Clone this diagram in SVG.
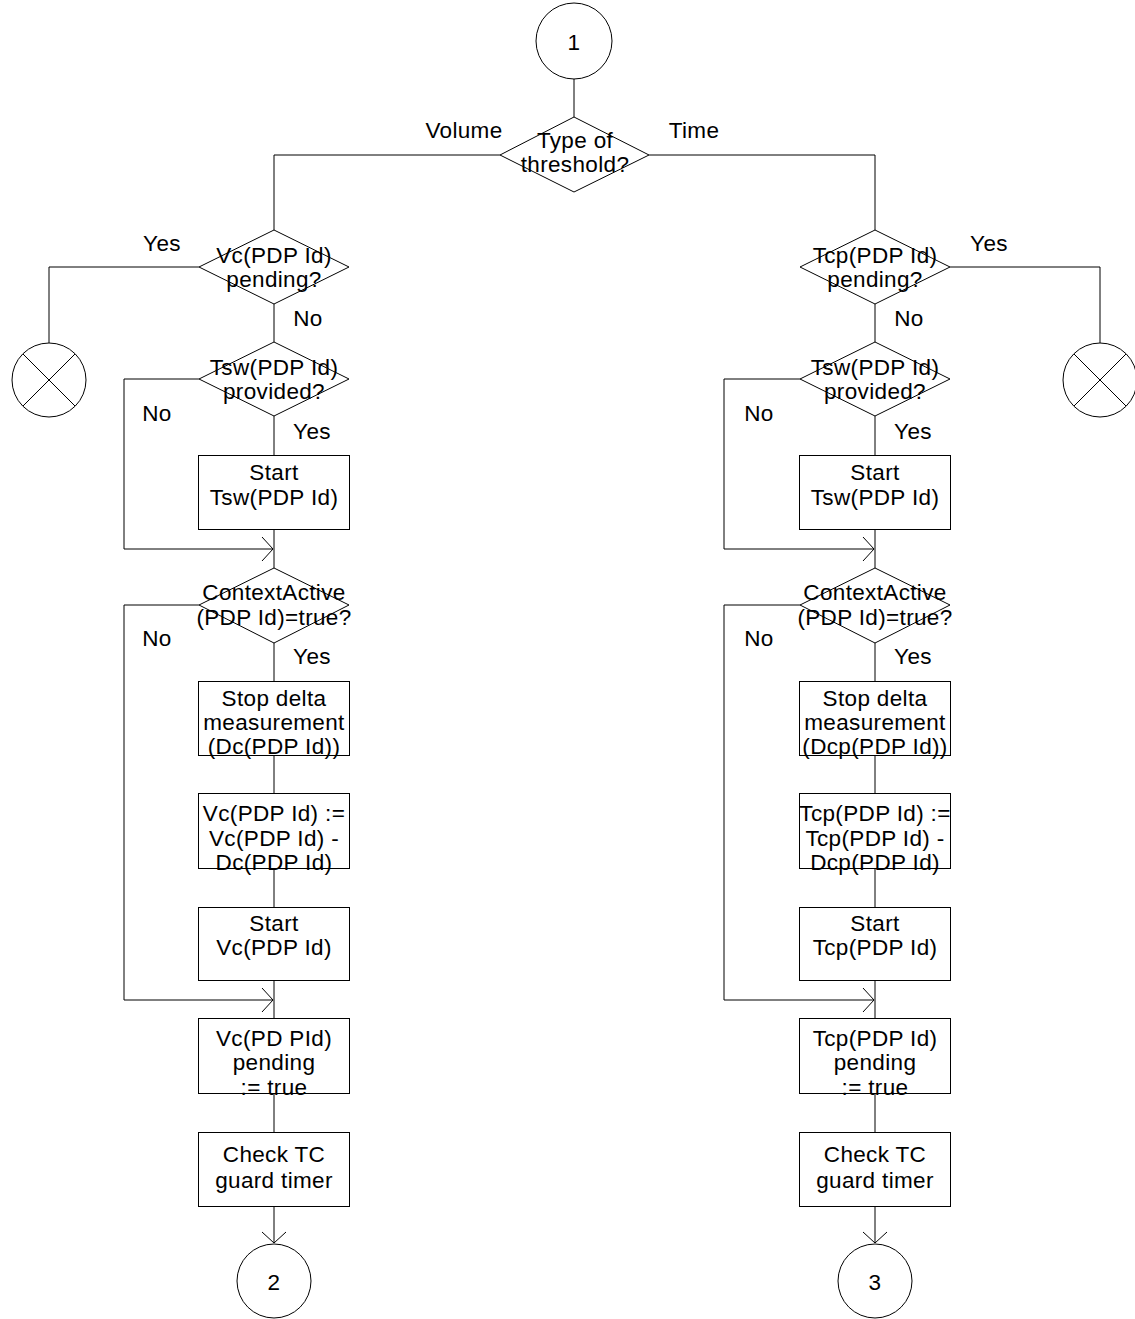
<svg xmlns="http://www.w3.org/2000/svg" width="1135" height="1319" viewBox="0 0 1135 1319">
<style>
.s{fill:none;stroke:#000;stroke-width:1}
.n{fill:#fff;stroke:#000;stroke-width:1}
text{font-family:"Liberation Sans",Arial,sans-serif;font-size:22.5px;letter-spacing:0.35px;fill:#000;text-anchor:middle}
</style>
<defs>
<marker id="arr" markerUnits="userSpaceOnUse" markerWidth="14" markerHeight="26" viewBox="-1 -1 14 26" refX="11" refY="12" orient="auto">
<path d="M0,0 L11,12 L0,24" fill="none" stroke="#000" stroke-width="1"/>
</marker>
</defs>
<rect width="1135" height="1319" fill="#fff"/>
<g id="connectors" class="s">
<path d="M574,79 V117"/>
<path d="M500,155 H274 V230"/>
<path d="M649,155 H875 V230"/>
<path d="M199,267 H49 V343"/>
<path d="M274,304 V342"/>
<path d="M274,416 V455"/>
<path d="M199,379 H124 V549 H273" marker-end="url(#arr)"/>
<path d="M274,530 V568"/>
<path d="M274,643 V681"/>
<path d="M199,605 H124 V1000 H273" marker-end="url(#arr)"/>
<path d="M274,755 V793"/>
<path d="M274,868 V907"/>
<path d="M274,980 V1018"/>
<path d="M274,1093 V1132"/>
<path d="M274,1206 V1243" marker-end="url(#arr)"/>
<path d="M950,267 H1100 V343"/>
<path d="M875,304 V342"/>
<path d="M875,416 V455"/>
<path d="M800,379 H724 V549 H874" marker-end="url(#arr)"/>
<path d="M875,530 V568"/>
<path d="M875,643 V681"/>
<path d="M800,605 H724 V1000 H874" marker-end="url(#arr)"/>
<path d="M875,755 V793"/>
<path d="M875,868 V907"/>
<path d="M875,980 V1018"/>
<path d="M875,1093 V1132"/>
<path d="M875,1206 V1243" marker-end="url(#arr)"/>
</g>
<g id="labels">
<text x="464" y="138">Volume</text>
<text x="694" y="138">Time</text>
<text x="162" y="251">Yes</text>
<text x="308" y="326">No</text>
<text x="157" y="421">No</text>
<text x="312" y="439">Yes</text>
<text x="157" y="646">No</text>
<text x="312" y="664">Yes</text>
<text x="989" y="251">Yes</text>
<text x="909" y="326">No</text>
<text x="759" y="421">No</text>
<text x="913" y="439">Yes</text>
<text x="759" y="646">No</text>
<text x="913" y="664">Yes</text>
</g>
<g id="start1"><circle class="n" cx="574" cy="41" r="38"/><text x="574" y="50">1</text></g>
<g id="typeOfThreshold"><polygon class="n" points="574,117 649,155 574,192 500,155"/><text x="575" y="148">Type of</text><text x="575" y="172">threshold?</text></g>

<g id="vcPending"><polygon class="n" points="274,230 349,267 274,304 199,267"/><text x="274" y="263">Vc(PDP Id)</text><text x="274" y="287">pending?</text></g>
<g id="stopLeft"><circle class="n" cx="49" cy="380" r="37"/><path class="s" d="M23,354 L75,406 M75,354 L23,406"/></g>
<g id="tswProvidedL"><polygon class="n" points="274,342 349,379 274,416 199,379"/><text x="274" y="375">Tsw(PDP Id)</text><text x="274" y="399">provided?</text></g>
<g id="startTswL"><rect class="n" x="198.5" y="455.5" width="151" height="74"/><text x="274" y="480">Start</text><text x="274" y="505">Tsw(PDP Id)</text></g>
<g id="ctxActiveL"><polygon class="n" points="274,568 349,605 274,643 199,605"/><text x="274" y="600">ContextActive</text><text x="274" y="625">(PDP Id)=true?</text></g>
<g id="stopDeltaL"><rect class="n" x="198.5" y="681.5" width="151" height="74"/><text x="274" y="706">Stop delta</text><text x="274" y="730">measurement</text><text x="274" y="754">(Dc(PDP Id))</text></g>
<g id="vcUpdate"><rect class="n" x="198.5" y="793.5" width="151" height="75"/><text x="274" y="821">Vc(PDP Id) :=</text><text x="274" y="846">Vc(PDP Id) -</text><text x="274" y="870">Dc(PDP Id)</text></g>
<g id="startVc"><rect class="n" x="198.5" y="907.5" width="151" height="73"/><text x="274" y="931">Start</text><text x="274" y="955">Vc(PDP Id)</text></g>
<g id="vcPendingTrue"><rect class="n" x="198.5" y="1018.5" width="151" height="75"/><text x="274" y="1046">Vc(PD PId)</text><text x="274" y="1070">pending</text><text x="274" y="1095">:= true</text></g>
<g id="checkTcL"><rect class="n" x="198.5" y="1132.5" width="151" height="74"/><text x="274" y="1162">Check TC</text><text x="274" y="1188">guard timer</text></g>
<g id="conn2"><circle class="n" cx="274" cy="1281" r="37"/><text x="274" y="1290">2</text></g>

<g id="tcpPending"><polygon class="n" points="875,230 950,267 875,304 800,267"/><text x="875" y="263">Tcp(PDP Id)</text><text x="875" y="287">pending?</text></g>
<g id="stopRight"><circle class="n" cx="1100" cy="380" r="37"/><path class="s" d="M1074,354 L1126,406 M1126,354 L1074,406"/></g>
<g id="tswProvidedR"><polygon class="n" points="875,342 950,379 875,416 800,379"/><text x="875" y="375">Tsw(PDP Id)</text><text x="875" y="399">provided?</text></g>
<g id="startTswR"><rect class="n" x="799.5" y="455.5" width="151" height="74"/><text x="875" y="480">Start</text><text x="875" y="505">Tsw(PDP Id)</text></g>
<g id="ctxActiveR"><polygon class="n" points="875,568 950,605 875,643 800,605"/><text x="875" y="600">ContextActive</text><text x="875" y="625">(PDP Id)=true?</text></g>
<g id="stopDeltaR"><rect class="n" x="799.5" y="681.5" width="151" height="74"/><text x="875" y="706">Stop delta</text><text x="875" y="730">measurement</text><text x="875" y="754">(Dcp(PDP Id))</text></g>
<g id="tcpUpdate"><rect class="n" x="799.5" y="793.5" width="151" height="75"/><text x="875" y="821">Tcp(PDP Id) :=</text><text x="875" y="846">Tcp(PDP Id) -</text><text x="875" y="870">Dcp(PDP Id)</text></g>
<g id="startTcp"><rect class="n" x="799.5" y="907.5" width="151" height="73"/><text x="875" y="931">Start</text><text x="875" y="955">Tcp(PDP Id)</text></g>
<g id="tcpPendingTrue"><rect class="n" x="799.5" y="1018.5" width="151" height="75"/><text x="875" y="1046">Tcp(PDP Id)</text><text x="875" y="1070">pending</text><text x="875" y="1095">:= true</text></g>
<g id="checkTcR"><rect class="n" x="799.5" y="1132.5" width="151" height="74"/><text x="875" y="1162">Check TC</text><text x="875" y="1188">guard timer</text></g>
<g id="conn3"><circle class="n" cx="875" cy="1281" r="37"/><text x="875" y="1290">3</text></g>
</svg>
